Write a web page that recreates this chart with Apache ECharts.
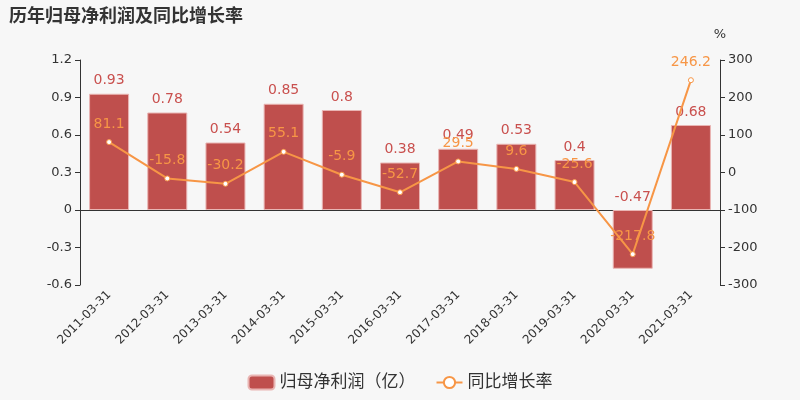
<!DOCTYPE html>
<html><head><meta charset="utf-8">
<script src="https://cdn.jsdelivr.net/npm/echarts@6/dist/echarts.min.js"></script>
<style>html,body{margin:0;padding:0;background:#f7f7f7}#c{width:800px;height:400px}</style>
</head><body><div id="c"></div>
<script>
const categories = ['2011-03-31','2012-03-31','2013-03-31','2014-03-31','2015-03-31','2016-03-31','2017-03-31','2018-03-31','2019-03-31','2020-03-31','2021-03-31'];
const netProfit = [0.93,0.78,0.54,0.85,0.8,0.38,0.49,0.53,0.4,-0.47,0.68];
const growthRate = [81.1,-15.8,-30.2,55.1,-5.9,-52.7,29.5,9.6,-25.6,-217.8,246.2];
const leftTicks = {min:-0.6,max:1.2,interval:0.3};
const rightTicks = {min:-300,max:300,interval:100};
const fontFam = '"DejaVu Sans","Noto Sans CJK SC",sans-serif';
const chart = echarts.init(document.getElementById('c'));
chart.setOption({
  backgroundColor:'#f7f7f7',
  textStyle:{fontFamily:fontFam},
  title:{text:'历年归母净利润及同比增长率',left:4,top:3,textStyle:{fontSize:18,fontWeight:'bold',color:'#333',fontFamily:fontFam}},
  legend:{bottom:4,left:'center',itemGap:20,itemWidth:26,itemHeight:14,textStyle:{fontSize:17,color:'#333',fontFamily:fontFam},
    data:[{name:'归母净利润（亿）',icon:'roundRect'},{name:'同比增长率'}]},
  grid:{left:80,right:80,top:60,bottom:115},
  xAxis:{type:'category',data:categories,axisLine:{lineStyle:{color:'#333'}},axisTick:{lineStyle:{color:'#333'}},
    axisLabel:{rotate:45,fontSize:12,color:'#333',interval:0}},
  yAxis:[
    {type:'value',min:leftTicks.min,max:leftTicks.max,interval:leftTicks.interval,splitLine:{show:false},
      axisLine:{show:true,lineStyle:{color:'#333'}},axisTick:{show:true},axisLabel:{fontSize:13,color:'#333'}},
    {type:'value',name:'%',nameTextStyle:{fontSize:13,color:'#333',padding:[0,0,4,0]},min:rightTicks.min,max:rightTicks.max,interval:rightTicks.interval,splitLine:{show:false},
      axisLine:{show:true,lineStyle:{color:'#333'}},axisTick:{show:true},axisLabel:{fontSize:13,color:'#333'}}
  ],
  series:[
    {name:'归母净利润（亿）',type:'bar',data:netProfit,barWidth:40,
      itemStyle:{color:'#bf4f4d',borderColor:'#e9b5b3',borderWidth:1},
      label:{show:true,position:'top',fontSize:14,color:'#c9504e',distance:6}},
    {name:'同比增长率',type:'line',yAxisIndex:1,data:growthRate,symbol:'circle',symbolSize:5,
      lineStyle:{color:'#f79646',width:2},itemStyle:{color:'#fff',borderColor:'#f79646',borderWidth:1},
      label:{show:true,position:'top',fontSize:14,color:'#f79646',distance:8}}
  ]
});
</script></body></html>
